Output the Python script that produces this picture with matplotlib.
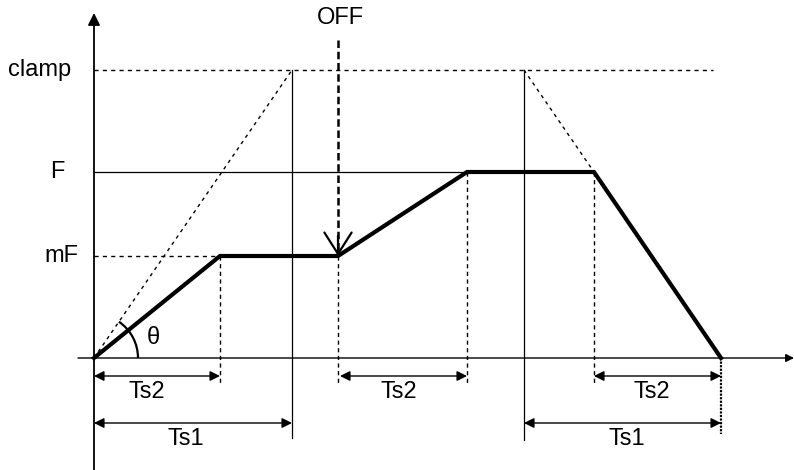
import matplotlib
matplotlib.use("Agg")
import matplotlib.pyplot as plt
from matplotlib.patches import Arc
import numpy as np

plt.rcParams['font.family'] = ['Liberation Sans', 'DejaVu Sans']

# ---- data (time / value units of the diagram) ----
profile_t = [0, 126, 244, 373, 500, 627]
profile_v = [0, 102, 102, 186, 186, 0]
level_labels = ["clamp", "F", "mF"]
level_values = [288, 186, 102]
Ts1 = 198
Ts2 = 126
t_off = 244
t_stop_ramp = 430          # start of the stop reference ramp (from clamp)
t_end = 627

W, H = 794, 470
ox, oy = 94, 358            # pixel position of the origin
fig = plt.figure(figsize=(W / 100, H / 100), dpi=100)
ax = fig.add_axes([0, 0, 1, 1])
ax.set_xlim(-ox, W - ox)
ax.set_ylim(oy - H, oy)
ax.axis('off')

k = 'black'
fs = 17
clamp, F, mF = level_values

# axes
ax.annotate('', xy=(0, oy - 13), xytext=(0, oy - H),
            arrowprops=dict(arrowstyle='-|>', color=k, lw=1.3, mutation_scale=18,
                            shrinkA=0, shrinkB=0))
ax.annotate('', xy=(W - ox, 0), xytext=(-16, 0),
            arrowprops=dict(arrowstyle='-|>', color=k, lw=1.0, mutation_scale=12,
                            shrinkA=0, shrinkB=0))

# level lines
ax.plot([0, 619], [clamp, clamp], color=k, lw=1.0, ls=(0, (3, 3)))
ax.plot([0, profile_t[3]], [F, F], color=k, lw=0.9)
ax.plot([0, profile_t[1]], [mF, mF], color=k, lw=1.0, ls=(0, (3, 3)))

# reference ramps
ax.plot([0, Ts1], [0, clamp], color=k, lw=1.0, ls=(0, (2.5, 3)))
ax.plot([t_stop_ramp, profile_t[4]], [clamp, F], color=k, lw=1.0, ls=(0, (2.5, 3)))

# vertical guide lines
ax.plot([Ts1, Ts1], [clamp, -80], color=k, lw=0.9)
ax.plot([t_stop_ramp, t_stop_ramp], [clamp, -82], color=k, lw=0.9)
for t, top in [(profile_t[1], mF), (profile_t[3], F), (profile_t[4], F)]:
    ax.plot([t, t], [top, -26], color=k, lw=1.0, ls=(0, (3, 2.5)))
ax.plot([t_off, t_off], [mF, -26], color=k, lw=1.0, ls=(0, (3, 2.5)))
ax.plot([t_end, t_end], [0, -76], color=k, lw=1.6, ls=(0, (1, 0.6)))

# OFF arrow
ax.plot([t_off, t_off], [oy - 40, mF + 4], color=k, lw=1.8, ls=(0, (3, 1.5)))
ax.annotate('', xy=(t_off, mF), xytext=(t_off, mF + 20),
            arrowprops=dict(arrowstyle='->, head_length=0.55, head_width=0.35',
                            color=k, lw=1.6, mutation_scale=28,
                            shrinkA=0, shrinkB=0))
ax.text(t_off + 2, oy - 18, 'OFF', ha='center', va='center', fontsize=fs)

# profile
ax.plot(profile_t, profile_v, color=k, lw=3.0, solid_joinstyle='miter')

# angle arc
ang = np.degrees(np.arctan2(clamp, Ts1))
ax.add_patch(Arc((0, 0), 88, 88, theta1=0, theta2=ang, color=k, lw=1.6))
ax.text(59, 20, 'θ', ha='center', va='center', fontsize=fs)

# level labels
label_x = [-23, -29, -16]
for lab, val, lx in zip(level_labels, level_values, label_x):
    ax.text(lx, val, lab, ha='right', va='center', fontsize=fs)

# dimension arrows
def dim(t0, t1, y, label, lx):
    ax.annotate('', xy=(t1, y), xytext=(t0, y),
                arrowprops=dict(arrowstyle='<|-|>', color=k, lw=1.0, mutation_scale=15,
                                shrinkA=0, shrinkB=0))
    ax.text(lx, y - 16, label, ha='center', va='center', fontsize=fs)

dim(0, Ts2, -18, 'Ts2', 53)
dim(t_off + 2, profile_t[3], -18, 'Ts2', 305)
dim(profile_t[4], t_end, -18, 'Ts2', 558)
dim(0, Ts1, -65, 'Ts1', 92)
dim(t_stop_ramp, t_end, -65, 'Ts1', 533)

fig.savefig('out.png', dpi=100)
